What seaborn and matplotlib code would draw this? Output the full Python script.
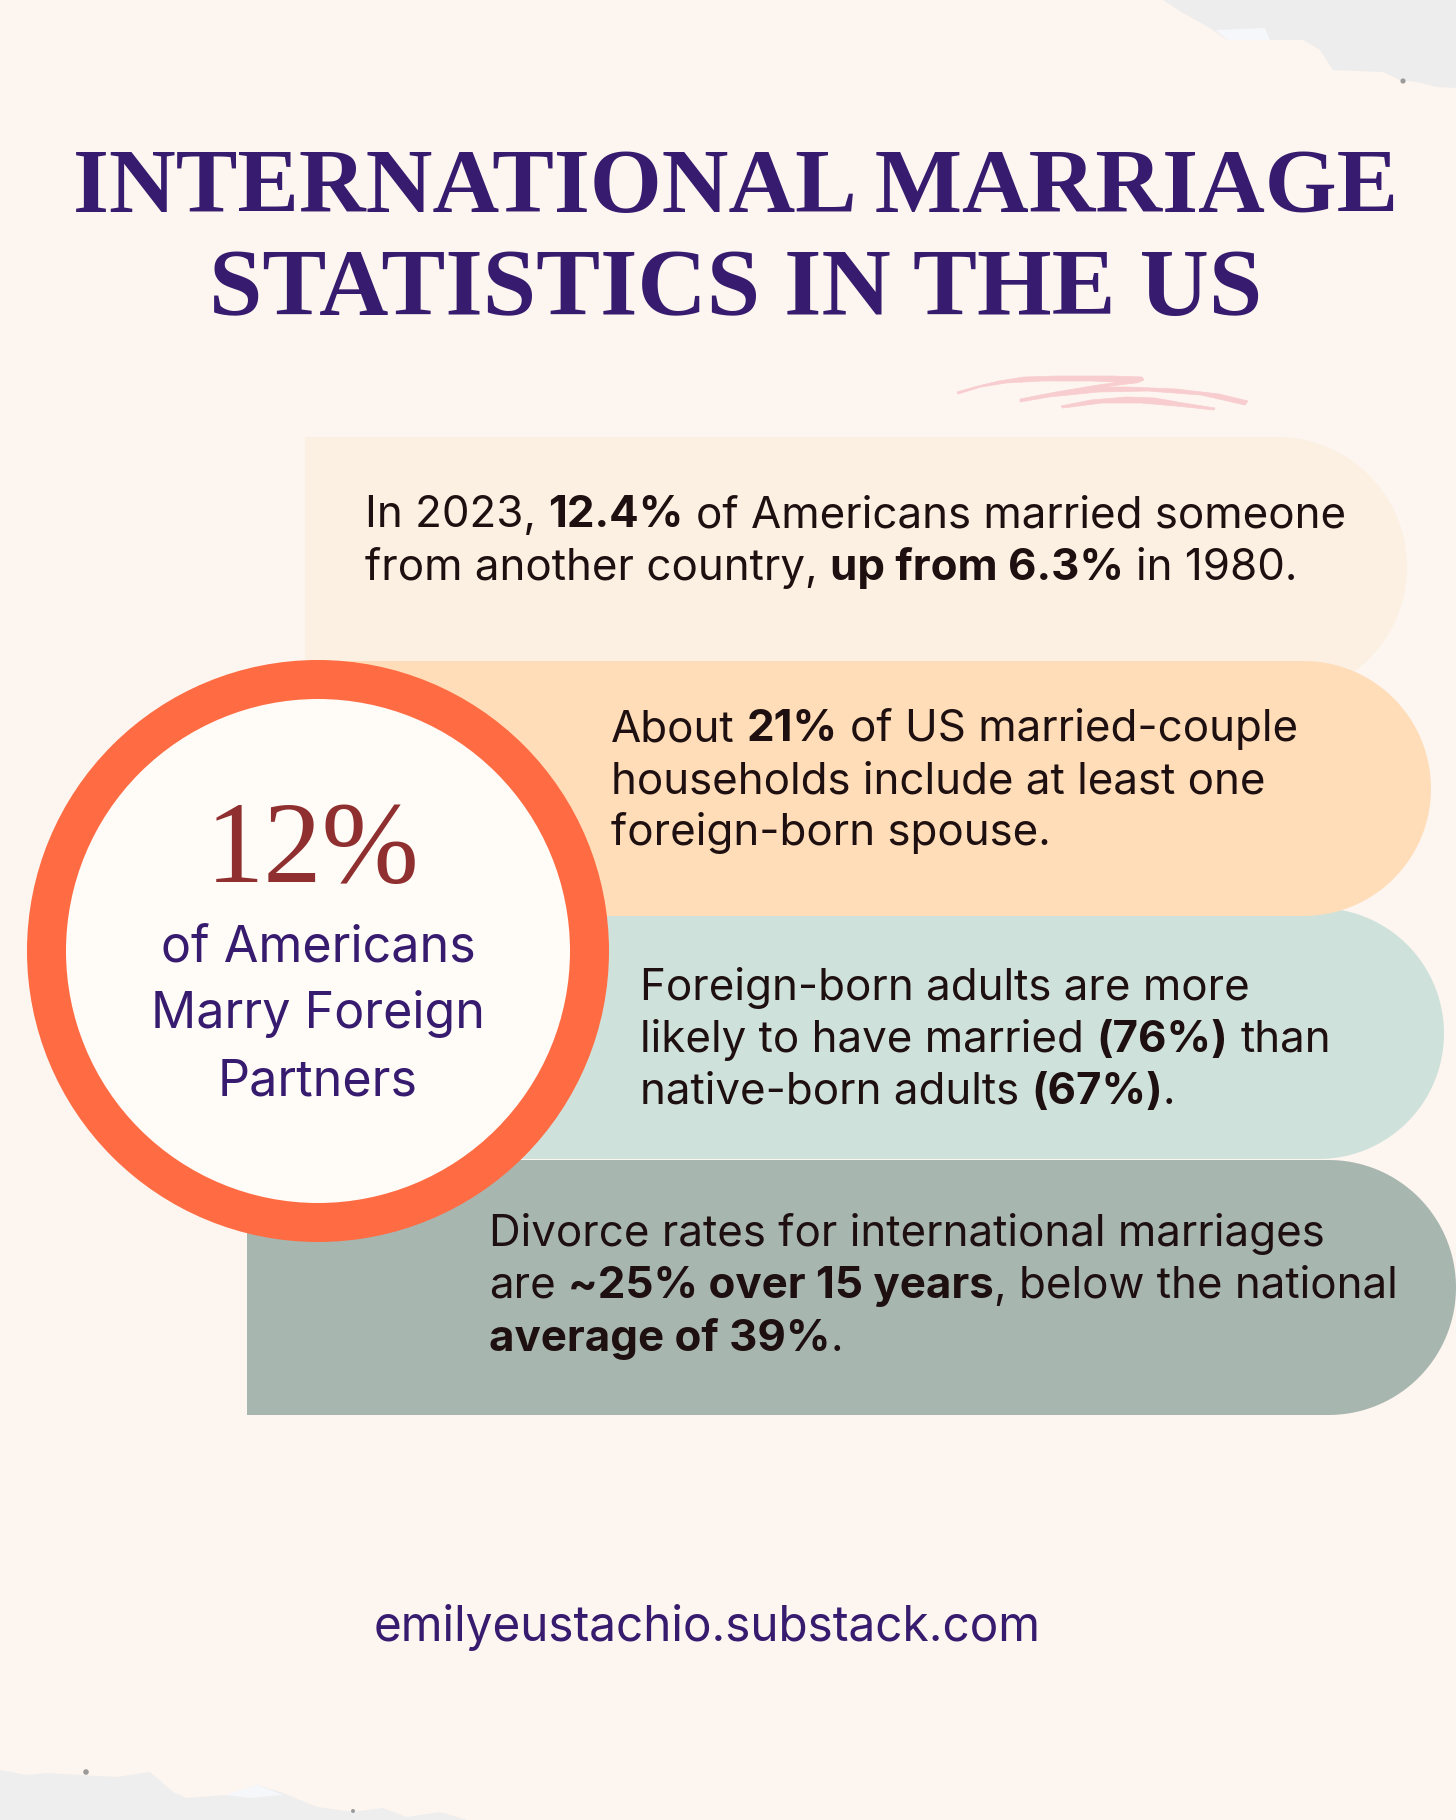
import numpy as np
import matplotlib
matplotlib.use("Agg")
import matplotlib.pyplot as plt
import seaborn as sns
from matplotlib.patches import Circle, Polygon

# ---- content ----
TITLE_LINES = ["INTERNATIONAL MARRIAGE", "STATISTICS IN THE US"]
HEADLINE_PCT = 12
HEADLINE_LINES = ["of Americans", "Marry Foreign", "Partners"]
FOOTER = "emilyeustachio.substack.com"

# (text, is_bold) runs per line
CARD1 = [[("In 2023, ", 0), ("12.4%", 1), (" of Americans married someone", 0)],
         [("from another country, ", 0), ("up from 6.3%", 1), (" in 1980.", 0)]]
CARD2 = [[("About ", 0), ("21%", 1), (" of US married-couple", 0)],
         [("households include at least one", 0)],
         [("foreign-born spouse.", 0)]]
CARD3 = [[("Foreign-born adults are more", 0)],
         [("likely to have married ", 0), ("(76%)", 1), (" than", 0)],
         [("native-born adults ", 0), ("(67%)", 1), (".", 0)]]
CARD4 = [[("Divorce rates for international marriages", 0)],
         [("are ", 0), ("~25% over 15 years", 1), (", below the national", 0)],
         [("average of 39%", 1), (".", 0)]]

# ---- layout, in pixels of the 1456x1820 picture ----
BG = "#FDF5EF"
PURPLE = "#371B6F"
INK = "#1E0F10"
BODY_FONT = "Inter"
BODY_SIZE = 31.6

sns.set_theme(style="white")
plt.rcParams["font.family"] = [BODY_FONT, "DejaVu Sans"]

fig = plt.figure(figsize=(14.56, 18.2), dpi=100, facecolor=BG)
ax = fig.add_axes([0, 0, 1, 1])
ax.set_xlim(0, 1456)
ax.set_ylim(1820, 0)
ax.axis("off")
renderer = fig.canvas.get_renderer()


def pill(left, right, top, bottom, color, z):
    # square on the left, fully rounded on the right
    r = (bottom - top) / 2
    a = np.linspace(-np.pi / 2, np.pi / 2, 80)
    xs = right - r + r * np.cos(a)
    ys = (top + bottom) / 2 + r * np.sin(a)
    pts = [(left, top)] + list(zip(xs, ys)) + [(left, bottom)]
    ax.add_patch(Polygon(pts, closed=True, fc=color, ec="none", zorder=z))


def text_w(s, size, weight):
    # bars keep the spaces at the ends of a run in the measure
    bar = ax.text(0, 0, "|", fontsize=size, fontweight=weight)
    t = ax.text(0, 0, "|" + s + "|", fontsize=size, fontweight=weight)
    w = t.get_window_extent(renderer).width - 2 * bar.get_window_extent(renderer).width
    bar.remove()
    t.remove()
    return w


def rich_lines(x, baselines, lines):
    for y, runs in zip(baselines, lines):
        cx = x
        for s, bold in runs:
            weight = "bold" if bold else "normal"
            ax.text(cx + (0 if s[0] != " " else text_w(" ", BODY_SIZE, weight)), y,
                    s.strip(), fontsize=BODY_SIZE, fontweight=weight, color=INK,
                    va="baseline", ha="left", zorder=10)
            cx += text_w(s, BODY_SIZE, weight)


# torn paper corners
corner_tr = [(1163, 0), (1183, 13), (1210, 28), (1227, 40), (1303, 40), (1320, 50),
             (1333, 70), (1383, 72), (1400, 80), (1417, 82), (1437, 87), (1456, 88), (1456, 0)]
corner_tr_light = [(1215, 30), (1265, 28), (1270, 40), (1228, 40)]
corner_bl = [(0, 1770), (27, 1775), (47, 1773), (80, 1775), (117, 1777), (150, 1772),
             (173, 1792), (187, 1798), (227, 1795), (257, 1785), (283, 1793), (317, 1807),
             (353, 1812), (383, 1808), (407, 1817), (440, 1812), (467, 1820), (0, 1820)]
corner_bl_light = [(225, 1795), (257, 1785), (283, 1795), (250, 1798)]
ax.add_patch(Polygon(corner_tr, closed=True, fc="#EDEDED", ec="none", zorder=1))
ax.add_patch(Polygon(corner_bl, closed=True, fc="#EEEEEE", ec="none", zorder=1))
ax.add_patch(Polygon(corner_tr_light, closed=True, fc="#F6F7FA", ec="none", zorder=1.5))
ax.add_patch(Polygon(corner_bl_light, closed=True, fc="#F6F7FA", ec="none", zorder=1.5))
ax.scatter([1403, 86, 353], [81, 1772, 1811], s=[14, 16, 8], c="#9A9A9A", lw=0, zorder=2)

# pink scribble, outlines
pink = "#F8CDD0"
scribble = [
    [(957, 392), (978, 386), (999, 381), (1024, 377), (1059, 376), (1112, 376), (1142, 377),
     (1144, 380), (1137, 383), (1091, 381), (1042, 381), (1006, 383), (981, 387), (958, 394)],
    [(1142, 379), (1098, 385), (1056, 392), (1020, 399), (1020, 402), (1049, 397), (1098, 392),
     (1148, 391), (1201, 395), (1245, 405), (1248, 401), (1219, 394), (1176, 389), (1127, 387),
     (1102, 387), (1135, 383)],
    [(1061, 406), (1091, 400), (1127, 397), (1155, 398), (1183, 403), (1215, 408), (1214, 410),
     (1176, 406), (1141, 403), (1102, 403), (1063, 408)],
]
for pts in scribble:
    ax.add_patch(Polygon(pts, closed=True, fc=pink, ec=pink, lw=0.5, joinstyle="round", zorder=2))

# title
for line, y, size in zip(TITLE_LINES, [212, 315], [66.5, 69]):
    ax.text(736, y, line, family=["Liberation Serif"], fontweight="bold", fontsize=size,
            color=PURPLE, ha="center", va="baseline", zorder=10)

# cards
pill(305, 1407, 437, 697, "#FBF0E2", 3)
pill(305, 1431, 661, 916, "#FFDDB8", 4)
pill(305, 1444, 908, 1159, "#CFE1DB", 3.5)
pill(247, 1456, 1160, 1415, "#A8B6B0", 5)

rich_lines(365, [527, 580], CARD1)
rich_lines(611, [741, 793, 845], CARD2)
rich_lines(640, [1000, 1052, 1104], CARD3)
rich_lines(489, [1246, 1298, 1351], CARD4)

# big ring
ax.add_patch(Circle((318, 951), 291, fc="#FF6B42", ec="none", zorder=6))
ax.add_patch(Circle((318, 951), 252, fc="#FFFCF8", ec="none", zorder=7))
ax.text(313, 882, f"{HEADLINE_PCT}%", family=["Liberation Serif"], fontsize=84, color="#8F2F2F",
        ha="center", va="baseline", zorder=10)
for line, y in zip(HEADLINE_LINES, [961, 1028, 1095]):
    ax.text(318, y, line, fontsize=36.2, color=PURPLE, ha="center", va="baseline", zorder=10)

# footer
ax.text(374, 1641, FOOTER, fontsize=34.4, color=PURPLE, ha="left", va="baseline", zorder=10)

sns.despine(ax=ax, left=True, bottom=True)
fig.savefig("out.png", dpi=100, facecolor=BG)
